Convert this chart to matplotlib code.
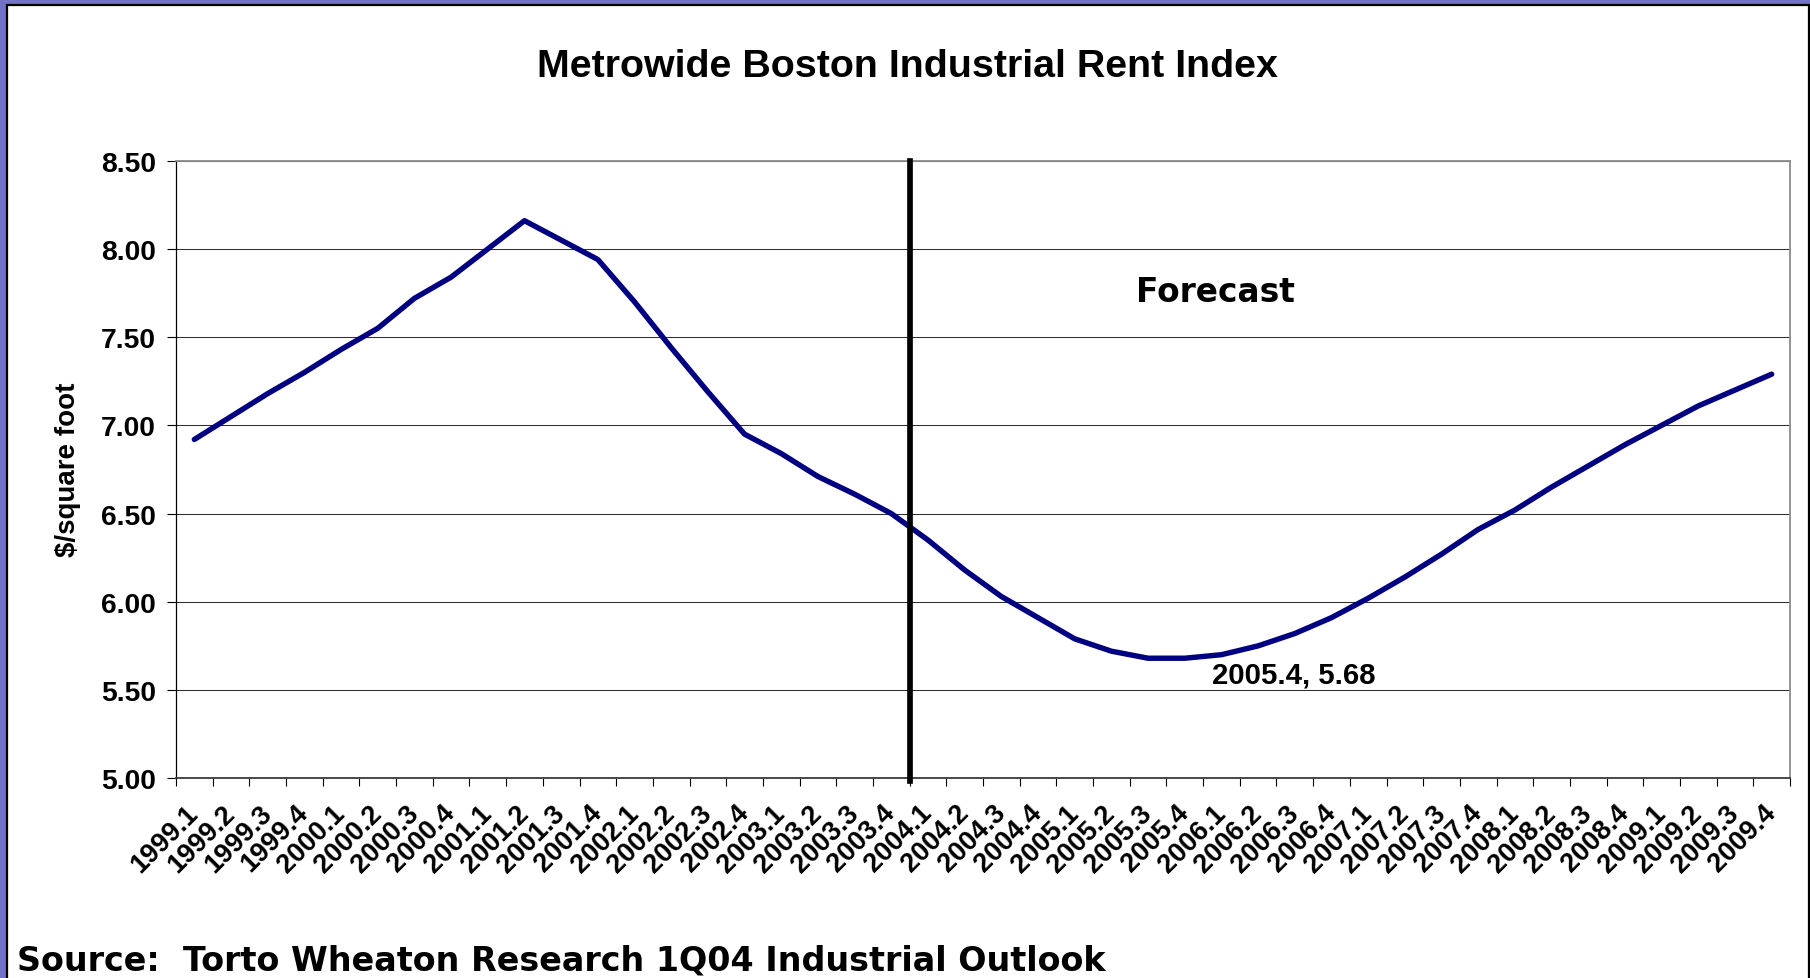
import matplotlib
matplotlib.use("Agg")
import matplotlib.pyplot as plt
from matplotlib.patches import Rectangle
import numpy as np

plt.rcParams['font.family'] = ['Liberation Sans', 'DejaVu Sans']

quarters = ["1999.1", "1999.2", "1999.3", "1999.4",
            "2000.1", "2000.2", "2000.3", "2000.4",
            "2001.1", "2001.2", "2001.3", "2001.4",
            "2002.1", "2002.2", "2002.3", "2002.4",
            "2003.1", "2003.2", "2003.3", "2003.4",
            "2004.1", "2004.2", "2004.3", "2004.4",
            "2005.1", "2005.2", "2005.3", "2005.4",
            "2006.1", "2006.2", "2006.3", "2006.4",
            "2007.1", "2007.2", "2007.3", "2007.4",
            "2008.1", "2008.2", "2008.3", "2008.4",
            "2009.1", "2009.2", "2009.3", "2009.4"]

rent = [6.92, 7.05, 7.18, 7.30,
        7.43, 7.55, 7.72, 7.84,
        8.00, 8.16, 8.05, 7.94,
        7.70, 7.44, 7.19, 6.95,
        6.84, 6.71, 6.61, 6.50,
        6.35, 6.18, 6.03, 5.91,
        5.79, 5.72, 5.68, 5.68,
        5.70, 5.75, 5.82, 5.91,
        6.02, 6.14, 6.27, 6.41,
        6.52, 6.65, 6.77, 6.89,
        7.00, 7.11, 7.20, 7.29]

y_ticks = [5.00, 5.50, 6.00, 6.50, 7.00, 7.50, 8.00, 8.50]
forecast_start = "2004.1"
label_quarter = "2005.4"

title = "Metrowide Boston Industrial Rent Index"
ylabel = "$/square foot"
source = "Source:  Torto Wheaton Research 1Q04 Industrial Outlook"

W, H = 1810, 979
fig = plt.figure(figsize=(W / 100, H / 100), dpi=100, facecolor='#7272c6')
fig.patches.append(Rectangle((6.5 / W, -0.05), (1808.5 - 6.5) / W, 1 - 5.5 / H + 0.05,
                             transform=fig.transFigure, facecolor='white',
                             edgecolor='black', lw=1.6, zorder=-1))

ax = fig.add_axes([176 / W, 1 - 779.2 / H, (1790 - 176) / W, (779.2 - 161.7) / H])
x = np.arange(len(quarters))
ax.plot(x, rent, color='#000080', lw=3.9, solid_joinstyle='round',
        solid_capstyle='round', zorder=3)

ax.set_xlim(-0.5, len(quarters) - 0.5)
ax.set_ylim(y_ticks[0], y_ticks[-1])
ax.set_yticks(y_ticks)
ax.set_yticklabels([f"{v:.2f}" for v in y_ticks], fontsize=20.3, fontweight='bold')
ax.yaxis.grid(True, color='#2e2e2e', lw=0.75)
ax.set_axisbelow(True)

ax.set_xticks(x)
ax.set_xticklabels(quarters, rotation=45, ha='right', va='center',
                   rotation_mode='anchor', fontsize=19.5, fontweight='bold')
ax.set_xticks(np.arange(-0.5, len(quarters), 1), minor=True)
ax.tick_params(axis='x', which='major', length=0, pad=22)
ax.tick_params(axis='x', which='minor', length=5.8, width=0.8, color='black')
ax.tick_params(axis='y', which='major', length=6.5, width=0.8, color='black', pad=8)

ax.spines['left'].set_color('black')
ax.spines['left'].set_linewidth(0.9)
ax.spines['bottom'].set_color('#3a3a3a')
ax.spines['bottom'].set_linewidth(1.3)
for s in ('top', 'right'):
    ax.spines[s].set_color('#8c8c8c')
    ax.spines[s].set_linewidth(1.3)

fi = quarters.index(forecast_start) - 0.5
ax.plot([fi, fi], [y_ticks[0] - 0.015, y_ticks[-1]], color='black', lw=4.1,
        clip_on=False, zorder=4)

li = quarters.index(label_quarter)
ax.annotate(f"{quarters[li]}, {rent[li]:.2f}", xy=(li, rent[li]),
            xytext=(27.74, 5.545), textcoords='data', ha='left', va='baseline',
            fontsize=21.2, fontweight='bold')

fig.text(907 / W, 1 - 77 / H, title, ha='center', va='baseline',
         fontsize=28.4, fontweight='bold')
fig.text(1215 / W, 1 - 301.6 / H, "Forecast", family=['DejaVu Sans'],
         ha='center', va='baseline', fontsize=23.7, fontweight='bold')
fig.text(68 / W, 1 - 470 / H, ylabel, rotation=90, ha='center', va='center',
         fontsize=20, fontweight='bold')
fig.text(17 / W, 1 - 971 / H, source, family=['DejaVu Sans'], ha='left',
         va='baseline', fontsize=24, fontweight='bold')

fig.savefig("out.png", dpi=100, facecolor=fig.get_facecolor())
